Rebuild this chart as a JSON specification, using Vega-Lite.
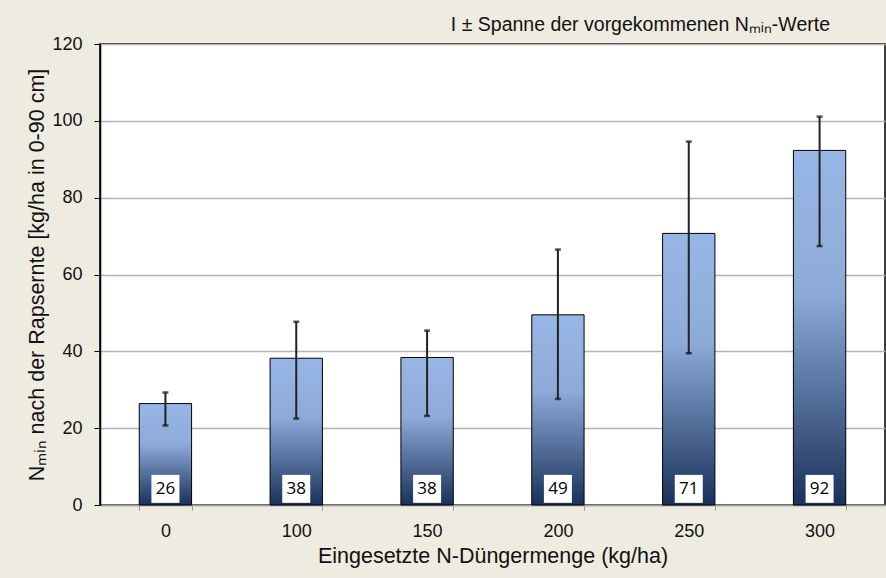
{
  "$schema": "https://vega.github.io/schema/vega-lite/v6.json",
  "width": 785,
  "height": 461,
  "autosize": "none",
  "padding": {"left": 100, "top": 44, "right": 1, "bottom": 73},
  "background": "#EEEBE0",
  "config": {
    "view": {"fill": "white", "stroke": "#000", "strokeWidth": 1.5},
    "font": "Liberation Sans"
  },
  "title": {
    "text": "I ± Spanne der vorgekommenen Nₘᵢₙ-Werte",
    "anchor": "end",
    "frame": "group",
    "dx": -55,
    "offset": 0,
    "fontSize": 19.5,
    "fontWeight": "normal",
    "font": "Liberation Sans",
    "color": "#111"
  },
  "data": {
    "values": [
      {"dose": "0", "val": 26.4, "min": 20.7, "max": 29.3, "label": "26"},
      {"dose": "100", "val": 38.2, "min": 22.5, "max": 47.7, "label": "38"},
      {"dose": "150", "val": 38.4, "min": 23.2, "max": 45.4, "label": "38"},
      {"dose": "200", "val": 49.5, "min": 27.6, "max": 66.5, "label": "49"},
      {"dose": "250", "val": 70.7, "min": 39.5, "max": 94.6, "label": "71"},
      {"dose": "300", "val": 92.3, "min": 67.4, "max": 101.1, "label": "92"}
    ]
  },
  "encoding": {
    "x": {
      "field": "dose",
      "type": "ordinal",
      "sort": null,
      "scale": {"paddingInner": 0.6, "paddingOuter": 0.3},
      "axis": {
        "title": "Eingesetzte N-Düngermenge (kg/ha)",
        "labelAngle": 0,
        "labelFontSize": 18,
        "labelColor": "#111",
        "labelPadding": 12,
        "titleFontSize": 21.5,
        "titleFontWeight": "normal",
        "titleColor": "#111",
        "titlePadding": 5,
        "tickBand": "extent",
        "tickColor": "#999",
        "tickSize": 5,
        "domainColor": "#A0A0A0",
        "domainWidth": 1.5
      }
    }
  },
  "layer": [
    {
      "mark": {
        "type": "bar",
        "stroke": "#000",
        "strokeWidth": 1,
        "color": {
          "gradient": "linear",
          "x1": 0, "y1": 0, "x2": 0, "y2": 1,
          "stops": [
            {"offset": 0, "color": "#98B6E5"},
            {"offset": 0.4, "color": "#8EAAD9"},
            {"offset": 1, "color": "#19325B"}
          ]
        }
      },
      "encoding": {
        "y": {
          "field": "val",
          "type": "quantitative",
          "scale": {"domain": [0, 120], "nice": false},
          "axis": {
            "title": "Nₘᵢₙ nach der Rapsernte [kg/ha in 0-90 cm]",
            "values": [0, 20, 40, 60, 80, 100, 120],
            "labelFontSize": 18,
            "labelColor": "#111",
            "labelPadding": 12,
            "tickSize": 6,
            "tickColor": "#000",
            "domainColor": "#000",
            "domainWidth": 1.5,
            "gridColor": "#B4B4B4",
            "gridWidth": 1.5,
            "titleFontSize": 21.5,
            "titleFontWeight": "normal",
            "titleColor": "#111",
            "titlePadding": 3
          }
        }
      }
    },
    {
      "mark": {"type": "rule", "color": "#222", "strokeWidth": 2},
      "encoding": {
        "y": {"field": "min", "type": "quantitative"},
        "y2": {"field": "max"}
      }
    },
    {
      "mark": {"type": "tick", "color": "#111", "thickness": 2.5, "size": 6},
      "encoding": {"y": {"field": "max", "type": "quantitative"}}
    },
    {
      "mark": {"type": "tick", "color": "#111", "thickness": 2.5, "size": 6},
      "encoding": {"y": {"field": "min", "type": "quantitative"}}
    },
    {
      "mark": {"type": "square", "filled": true, "color": "white", "opacity": 1, "size": 784},
      "encoding": {"y": {"datum": 4.2}}
    },
    {
      "mark": {"type": "text", "font": "Open Sans", "fontSize": 17, "color": "#000", "baseline": "middle", "dy": 0},
      "encoding": {
        "y": {"datum": 4.2},
        "text": {"field": "label"}
      }
    }
  ]
}
